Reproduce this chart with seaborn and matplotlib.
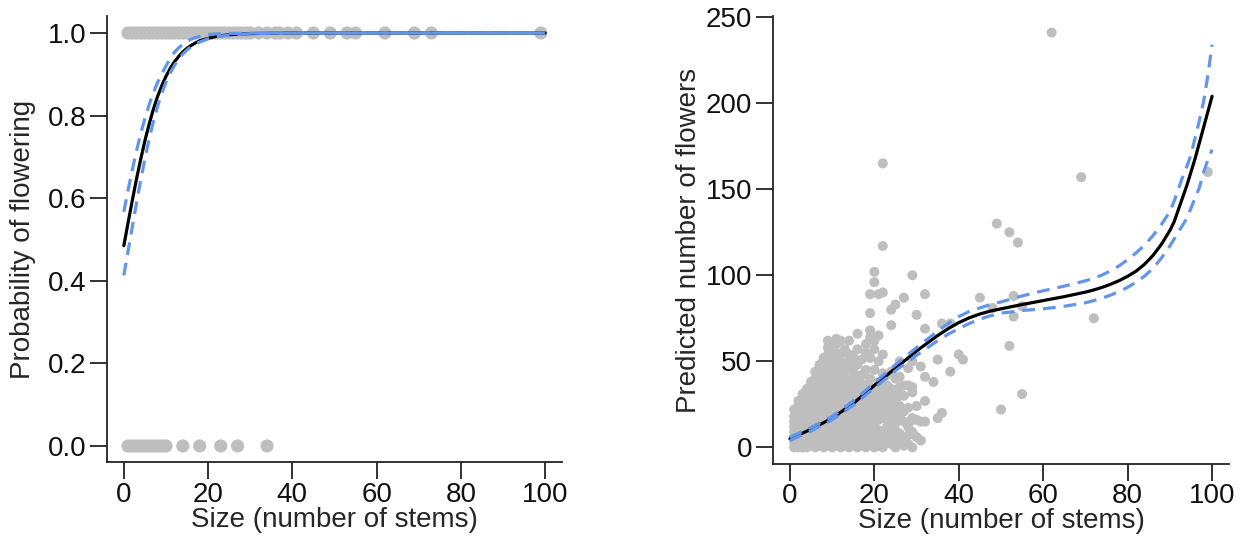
import matplotlib
matplotlib.use("Agg")
import matplotlib.pyplot as plt
import numpy as np
import pandas as pd
import seaborn as sns

# ---------------- Left panel data: flowering (1) / not flowering (0) ----------------
size_flowering = list(range(1, 31)) + [32, 34, 36, 37, 39, 41, 45, 49, 53, 55, 62, 69, 73, 99]
size_not_flowering = [1, 2, 3, 4, 5, 6, 7, 8, 9, 10, 14, 18, 23, 27, 34]

prob_x = [0, 1, 2, 3, 4, 5, 6, 7, 8, 9, 10, 11, 12, 13, 14, 15, 16, 17, 18, 20, 22, 25, 30, 40,
          50, 60, 70, 80, 90, 100]
prob_fit = [0.485, 0.540, 0.594, 0.646, 0.694, 0.739, 0.779, 0.815, 0.846, 0.872, 0.895, 0.914,
            0.930, 0.943, 0.954, 0.963, 0.970, 0.976, 0.981, 0.987, 0.992, 0.996, 0.9986, 1.0,
            1.0, 1.0, 1.0, 1.0, 1.0, 1.0]
prob_upper = [0.567, 0.619, 0.668, 0.714, 0.756, 0.793, 0.826, 0.855, 0.880, 0.901, 0.920, 0.938,
              0.953, 0.964, 0.973, 0.980, 0.985, 0.989, 0.992, 0.996, 0.998, 0.999, 0.9995, 1.0,
              1.0, 1.0, 1.0, 1.0, 1.0, 1.0]
prob_lower = [0.413, 0.471, 0.530, 0.588, 0.643, 0.695, 0.743, 0.785, 0.822, 0.854, 0.881, 0.903,
              0.921, 0.937, 0.949, 0.959, 0.967, 0.973, 0.978, 0.986, 0.991, 0.995, 0.9985, 1.0,
              1.0, 1.0, 1.0, 1.0, 1.0, 1.0]

# ---------------- Right panel data: number of flowers by size ----------------
flowers_by_size = {
    1: [0, 3, 6, 9, 12, 15, 18, 22],
    2: [0, 3, 6, 9, 12, 15, 18, 21, 24, 27],
    3: [0, 3, 6, 9, 12, 15, 18, 21, 24, 27, 31],
    4: [0, 3, 6, 9, 12, 15, 18, 21, 24, 27, 30, 34],
    5: [1, 4, 7, 10, 13, 16, 19, 22, 25, 28, 31, 34, 38],
    6: [0, 3, 6, 9, 12, 15, 18, 21, 24, 27, 30, 33, 36, 40, 44],
    7: [1, 4, 7, 10, 13, 16, 19, 22, 25, 28, 31, 34, 37, 40, 44, 48],
    8: [0, 3, 6, 9, 12, 15, 18, 21, 24, 27, 30, 33, 36, 39, 43, 47, 52],
    9: [1, 4, 7, 10, 13, 16, 19, 22, 25, 28, 31, 34, 37, 41, 45, 49, 54, 58, 62],
    10: [0, 3, 6, 9, 12, 15, 19, 23, 27, 31, 35, 39, 43, 47, 51, 55, 59],
    11: [1, 4, 7, 10, 14, 18, 22, 26, 30, 34, 38, 42, 46, 50, 55, 60, 63],
    12: [0, 3, 6, 10, 14, 18, 22, 26, 30, 34, 38, 42, 46, 50, 54, 62],
    13: [1, 4, 8, 12, 16, 20, 24, 28, 33, 37, 41, 45, 49, 57],
    14: [0, 3, 7, 11, 15, 20, 25, 29, 33, 38, 46, 50, 54, 62],
    15: [2, 6, 10, 14, 18, 23, 27, 31, 36, 40, 44, 53],
    16: [0, 4, 8, 12, 17, 21, 25, 30, 34, 39, 48, 57, 66],
    17: [1, 5, 9, 14, 18, 23, 28, 32, 37, 42, 51],
    18: [0, 4, 8, 13, 17, 22, 27, 31, 36, 45, 55, 60],
    19: [2, 5, 10, 15, 20, 25, 30, 35, 40, 52, 64, 68, 78, 89],
    20: [0, 4, 9, 14, 19, 24, 29, 34, 45, 57, 62, 96, 102],
    21: [1, 5, 10, 16, 22, 28, 33, 38, 50, 65, 89],
    22: [0, 3, 8, 17, 21, 26, 31, 37, 43, 54, 90, 117, 165],
    23: [3, 7, 12, 19, 25, 31, 36, 42],
    24: [2, 6, 11, 16, 22, 28, 34, 44, 71, 80],
    25: [0, 5, 10, 14, 20, 27, 33, 40, 83],
    26: [3, 8, 17, 24, 30, 35, 41, 50],
    27: [1, 6, 15, 21, 30, 36, 87],
    28: [2, 7, 12, 23, 36, 46],
    29: [0, 9, 16, 17, 32, 35, 50, 100],
    30: [6, 16, 24, 77],
    31: [4, 15, 47],
    32: [15, 27, 41, 69, 89],
    34: [38],
    35: [17, 51],
    36: [20, 72],
    38: [44, 72],
    40: [54],
    41: [51],
    45: [87],
    48: [81],
    49: [130],
    50: [22],
    52: [59, 125],
    53: [76, 88],
    54: [119],
    55: [31, 82],
    62: [241],
    69: [157],
    72: [75],
    99: [160],
}

pred_x = [0, 5, 10, 15, 20, 25, 30, 35, 37.5, 40, 42.5, 45, 47.5, 50, 55, 60, 65, 70, 72, 74, 76,
          78, 80, 82, 84, 86, 88, 90, 91, 92, 93, 94, 95, 96, 97, 98, 99, 100]
pred_fit = [5, 10.5, 17, 25.5, 36, 46, 56, 65, 69, 72.5, 75.3, 77.5, 79.2, 80.5, 83, 85.3, 87.6,
            90.2, 91.5, 93, 94.8, 96.9, 99.4, 102.4, 106.4, 111.5, 118, 126, 131, 138, 145, 152,
            160, 168, 177, 186, 195, 204]
pred_upper = [6, 11.5, 18, 27, 37.5, 48, 58, 67.5, 72, 76, 79, 81, 83, 84.5, 88, 91, 93.7, 96.8,
              98.3, 100.2, 102.6, 105.5, 109, 113, 117.5, 123, 129.5, 137, 143, 150, 157, 163,
              170, 180, 190, 201, 216, 234]
pred_lower = [4, 9.5, 16, 24.5, 34.5, 44.5, 53.5, 62, 65.8, 69, 72, 74.5, 76.5, 78, 79.5, 80.5,
              82, 84, 85.3, 86.8, 88.5, 90.5, 93, 96, 99.5, 104, 110, 117, 121, 125, 129, 133,
              139, 145, 151, 160, 167, 173]

x_ticks = [0, 20, 40, 60, 80, 100]
prob_ticks = [0.0, 0.2, 0.4, 0.6, 0.8, 1.0]
prob_tick_labels = ["0.0", "0.2", "0.4", "0.6", "0.8", "1.0"]
flower_ticks = [0, 50, 100, 150, 200, 250]
x_label = "Size (number of stems)"
left_ylabel = "Probability of flowering"
right_ylabel = "Predicted number of flowers"

# ---------------- Tables ----------------
df_left = pd.DataFrame({
    "size": size_flowering + size_not_flowering,
    "flowered": [1.0] * len(size_flowering) + [0.0] * len(size_not_flowering),
})
df_prob = pd.DataFrame({"x": prob_x, "fit": prob_fit, "upper": prob_upper, "lower": prob_lower})
rows = [(s, f) for s, fl in flowers_by_size.items() for f in fl]
df_right = pd.DataFrame(rows, columns=["size", "flowers"])
df_pred = pd.DataFrame({"x": pred_x, "fit": pred_fit, "upper": pred_upper, "lower": pred_lower})

# ---------------- Style ----------------
sns.set_theme(style="white")
plt.rcParams["font.family"] = ["Liberation Sans", "DejaVu Sans"]
FS = 20
GRAY = "#BEBEBE"
BLUE = "#6495ED"
DASH = (0, (4, 2.5))

fig = plt.figure(figsize=(12.41, 5.55), dpi=100)
ax1 = fig.add_axes([0.0862, 0.1667, 0.3666, 0.8036])
ax2 = fig.add_axes([0.6229, 0.1640, 0.3674, 0.8072])

# Left panel
sns.scatterplot(data=df_left, x="size", y="flowered", ax=ax1, color=GRAY, s=90,
                linewidth=0, edgecolor="none", zorder=2, legend=False)
sns.lineplot(data=df_prob, x="x", y="fit", ax=ax1, color="black", lw=2.3,
             estimator=None, sort=False, zorder=3, solid_capstyle="round")
for col in ["upper", "lower"]:
    sns.lineplot(data=df_prob, x="x", y=col, ax=ax1, color=BLUE, lw=2.3,
                 estimator=None, sort=False, zorder=4, linestyle=DASH)
ax1.set_xlim(-4, 104)
ax1.set_ylim(-0.04, 1.04)
ax1.set_yticks(prob_ticks)
ax1.set_yticklabels(prob_tick_labels)
ax1.set_ylabel(left_ylabel, fontsize=FS, labelpad=8)

# Right panel
sns.scatterplot(data=df_right, x="size", y="flowers", ax=ax2, color=GRAY, s=52,
                linewidth=0, edgecolor="none", zorder=2, legend=False)
sns.lineplot(data=df_pred, x="x", y="fit", ax=ax2, color="black", lw=2.3,
             estimator=None, sort=False, zorder=3, solid_capstyle="round")
for col in ["upper", "lower"]:
    sns.lineplot(data=df_pred, x="x", y=col, ax=ax2, color=BLUE, lw=2.3,
                 estimator=None, sort=False, zorder=4, linestyle=DASH)
ax2.set_xlim(-4, 104)
ax2.set_ylim(-9.64, 250.64)
ax2.set_yticks(flower_ticks)
ax2.set_yticklabels([str(t) for t in flower_ticks])
ax2.set_ylabel(right_ylabel, fontsize=FS, labelpad=3)

for ax in (ax1, ax2):
    ax.set_xticks(x_ticks)
    ax.set_xticklabels([str(t) for t in x_ticks])
    ax.set_xlabel(x_label, fontsize=FS, labelpad=-1)
    for side in ("top", "right"):
        ax.spines[side].set_visible(False)
    for side in ("left", "bottom"):
        ax.spines[side].set_color("#222222")
        ax.spines[side].set_linewidth(1.3)
    ax.tick_params(axis="both", direction="out", length=12, width=1.3, color="#222222",
                   labelsize=FS, labelcolor="#111111", left=True, bottom=True)
    ax.tick_params(axis="x", pad=2)
    ax.tick_params(axis="y", pad=3)
    ax.set_facecolor("white")

fig.savefig("out.png", dpi=100, facecolor="white")
